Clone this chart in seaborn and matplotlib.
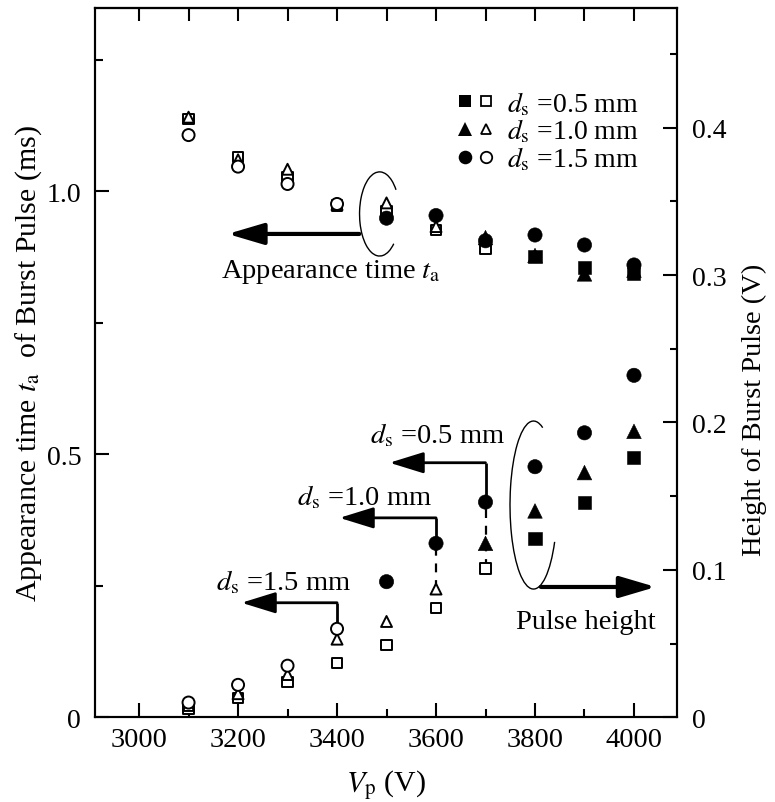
import numpy as np
import pandas as pd
import matplotlib
matplotlib.use("Agg")
import matplotlib.pyplot as plt
import seaborn as sns
from matplotlib.patches import Arc
from matplotlib.lines import Line2D
from matplotlib.legend_handler import HandlerTuple
from matplotlib.ticker import FixedLocator

# ---------------- data ----------------
voltages = [3100, 3200, 3300, 3400, 3500, 3600, 3700, 3800, 3900, 4000]
ds_labels = ["0.5 mm", "1.0 mm", "1.5 mm"]

# appearance time t_a (ms)
ta_05 = [1.138, 1.065, 1.027, 0.973, 0.963, 0.926, 0.890, 0.876, 0.855, 0.843]
ta_10 = [1.141, 1.060, 1.042, 0.975, 0.978, 0.933, 0.912, 0.878, 0.843, 0.850]
ta_15 = [1.107, 1.047, 1.014, 0.976, 0.949, 0.954, 0.906, 0.917, 0.898, 0.860]

# pulse height (V)
ph_05 = [0.006, 0.013, 0.024, 0.037, 0.049, 0.074, 0.101, 0.121, 0.146, 0.176]
ph_10 = [0.008, 0.016, 0.029, 0.053, 0.065, 0.087, 0.118, 0.140, 0.166, 0.194]
ph_15 = [0.010, 0.022, 0.035, 0.060, 0.092, 0.118, 0.146, 0.170, 0.193, 0.232]

# filled (1) / open (0) symbol
fill_05 = [0, 0, 0, 0, 0, 0, 0, 1, 1, 1]
fill_10 = [0, 0, 0, 0, 0, 0, 1, 1, 1, 1]
fill_15 = [0, 0, 0, 0, 1, 1, 1, 1, 1, 1]

x_ticks = [3000, 3200, 3400, 3600, 3800, 4000]
left_ticks = [0, 0.5, 1.0]
left_ticklabels = ["0", "0.5", "1.0"]
right_ticks = [0, 0.1, 0.2, 0.3, 0.4]
right_ticklabels = ["0", "0.1", "0.2", "0.3", "0.4"]

rows = []
for lab, ta, ph, fl in zip(ds_labels, [ta_05, ta_10, ta_15], [ph_05, ph_10, ph_15],
                           [fill_05, fill_10, fill_15]):
    for v, t, p, f in zip(voltages, ta, ph, fl):
        rows.append({"V": v, "ds": lab, "ta": t, "ph": p, "filled": bool(f)})
df = pd.DataFrame(rows)

# ---------------- style ----------------
sns.set_theme(style="ticks")
plt.rcParams.update({
    "font.family": ["Liberation Serif", "DejaVu Serif"],
    "mathtext.fontset": "stix",
    "font.size": 20.5,
    "xtick.labelsize": 20.5,
    "ytick.labelsize": 20,
    "axes.labelsize": 21.5,
    "legend.fontsize": 20,
    "axes.linewidth": 1.5,
    "axes.edgecolor": "black",
    "axes.labelcolor": "black",
    "text.color": "black",
    "xtick.color": "black",
    "ytick.color": "black",
    "axes.facecolor": "white",
    "figure.facecolor": "white",
})

fig = plt.figure(figsize=(7.75, 8.03), dpi=100)
ax = fig.add_axes([0.1226, 0.1055, 0.7510, 0.8829])
ax2 = ax.twinx()

markers = {"0.5 mm": "s", "1.0 mm": "^", "1.5 mm": "o"}
sizes_filled = {"0.5 mm": 88, "1.0 mm": 110, "1.5 mm": 106}
sizes_open = {"0.5 mm": 55, "1.0 mm": 62, "1.5 mm": 75}

for col, axis in [("ta", ax), ("ph", ax2)]:
    for filled in [False, True]:
        sub = df[df["filled"] == filled]
        if filled:
            sns.scatterplot(data=sub, x="V", y=col, style="ds", markers=markers,
                            size="ds", sizes=sizes_filled, ax=axis, legend=False,
                            color="black", edgecolor="black", linewidth=0.4, zorder=4)
        else:
            sns.scatterplot(data=sub, x="V", y=col, style="ds", markers=markers,
                            size="ds", sizes=sizes_open, ax=axis, legend=False,
                            color="white", edgecolor="black", linewidth=1.4, zorder=4)

# ---------------- axes ----------------
ax.set_xlim(2911, 4087)
ax.set_ylim(0, 1.348)
ax2.set_ylim(0, 0.481)

ax.set_xticks(x_ticks)
ax.xaxis.set_minor_locator(FixedLocator(list(range(3100, 4001, 200))))
ax.set_yticks(left_ticks)
ax.set_yticklabels(left_ticklabels)
ax.yaxis.set_minor_locator(FixedLocator([0.25, 0.75, 1.25]))
ax2.set_yticks(right_ticks)
ax2.set_yticklabels(right_ticklabels)
ax2.yaxis.set_minor_locator(FixedLocator([0.05, 0.15, 0.25, 0.35, 0.45]))

ax.tick_params(which="major", direction="in", length=10, width=1.5, pad=7,
               top=False, right=False)
ax.tick_params(which="minor", direction="in", length=5.5, width=1.5,
               top=False, right=False)
ax.tick_params(axis="y", which="major", pad=10)
ax2.tick_params(which="major", direction="in", length=10, width=1.5, pad=11)
ax2.tick_params(which="minor", direction="in", length=5, width=1.5)

sec = ax.secondary_xaxis("top")
sec.set_xticks(list(range(3000, 4001, 100)))
sec.tick_params(direction="in", length=9.5, width=1.5, labeltop=False)
sec.spines["top"].set_linewidth(1.5)

ax.set_xlabel(r"$V_{\mathrm{p}}$ (V)", labelpad=11)
ax.set_ylabel(r"Appearance time $t_{\mathrm{a}}$  of Burst Pulse (ms)", labelpad=2)
ax2.set_ylabel("Height of Burst Pulse (V)", labelpad=11, fontsize=20.5)
ax2.yaxis.label.set_y(0.435)
for a in (ax, ax2):
    for s in a.spines.values():
        s.set_linewidth(1.5)
        s.set_color("black")

# ---------------- legend ----------------
handles = []
for lab in ds_labels:
    m = markers[lab]
    hf = Line2D([], [], ls="none", marker=m, color="black",
                markersize=np.sqrt(sizes_filled[lab]) * 0.95, markeredgewidth=0)
    ho = Line2D([], [], ls="none", marker=m, markerfacecolor="white",
                markeredgecolor="black", markeredgewidth=1.3,
                markersize=np.sqrt(sizes_open[lab]) * 0.95)
    handles.append((hf, ho))
leg = ax.legend(handles=handles,
                labels=[r"$d_{\mathrm{s}}$ =" + lab for lab in ds_labels],
                handler_map={tuple: HandlerTuple(ndivide=None, pad=0)},
                loc="upper left", bbox_to_anchor=(0.617, 0.8855),
                frameon=False, handlelength=1.52,
                handletextpad=0.37, labelspacing=0.0, borderpad=0,
                borderaxespad=0)

# ---------------- annotations ----------------
def arc_angle(phi, w, h):
    """parametric ellipse angle -> Arc theta (Arc stretches by data w/h)"""
    p = np.deg2rad(phi)
    return np.rad2deg(np.arctan2(np.sin(p) * h / w, np.cos(p)))

arrow_big = dict(arrowstyle="-|>,head_length=22,head_width=6.5", color="black",
                 lw=3.0, shrinkA=0, shrinkB=0, mutation_scale=1)
arrow_small = dict(arrowstyle="-|>,head_length=21,head_width=6.5", color="black",
                   lw=2.0, shrinkA=0, shrinkB=0, mutation_scale=1)

# appearance-time group
w1, h1 = 81, 0.16
ax.add_patch(Arc((3486, 0.957), w1, h1, theta1=arc_angle(35, w1, h1),
                 theta2=arc_angle(315, w1, h1), color="black", lw=1.0, zorder=3))
ax.annotate("", xy=(3179, 0.919), xytext=(3445, 0.919), arrowprops=arrow_big)
ax.text(3165, 0.849, r"Appearance time $t_{\mathrm{a}}$", ha="left", va="center")

# pulse-height group (right axis units)
w2, h2 = 95, 0.114
ax2.add_patch(Arc((3797, 0.144), w2, h2, theta1=arc_angle(67, w2, h2),
                  theta2=arc_angle(334, w2, h2), color="black", lw=1.0, zorder=3))
ax2.annotate("", xy=(4044, 0.0884), xytext=(3812, 0.0884), arrowprops=arrow_big)
ax2.text(3903, 0.0652, "Pulse height", ha="center", va="center")

# d_s labels with elbow arrows
ph_by = dict(zip(ds_labels, [ph_05, ph_10, ph_15]))
elbows = [
    # (voltage, arrow y, tip x, text x, text y, label, dashed down to)
    (3700, 0.1727, 3506, 3466, 0.1919, "0.5 mm", "0.5 mm"),
    (3600, 0.1353, 3405, 3320, 0.1500, "1.0 mm", "1.0 mm"),
    (3400, 0.0777, 3207, 3156, 0.0923, "1.5 mm", None),
]
for v, ay, tipx, tx, ty, lab, dash_to in elbows:
    i = voltages.index(v)
    top_pt = ph_15[i]
    ax2.plot([v, v], [top_pt, ay], color="black", lw=2.0, zorder=2,
             solid_capstyle="butt")
    if dash_to is not None:
        ax2.plot([v, v], [ph_by[dash_to][i], top_pt], color="black", lw=1.6,
                 ls=(0, (4, 3.5)), zorder=2)
    ax2.annotate("", xy=(tipx, ay), xytext=(v, ay), arrowprops=arrow_small)
    ax2.text(tx, ty, r"$d_{\mathrm{s}}$ =" + lab, ha="left", va="center")

fig.savefig("out.png", dpi=100)
